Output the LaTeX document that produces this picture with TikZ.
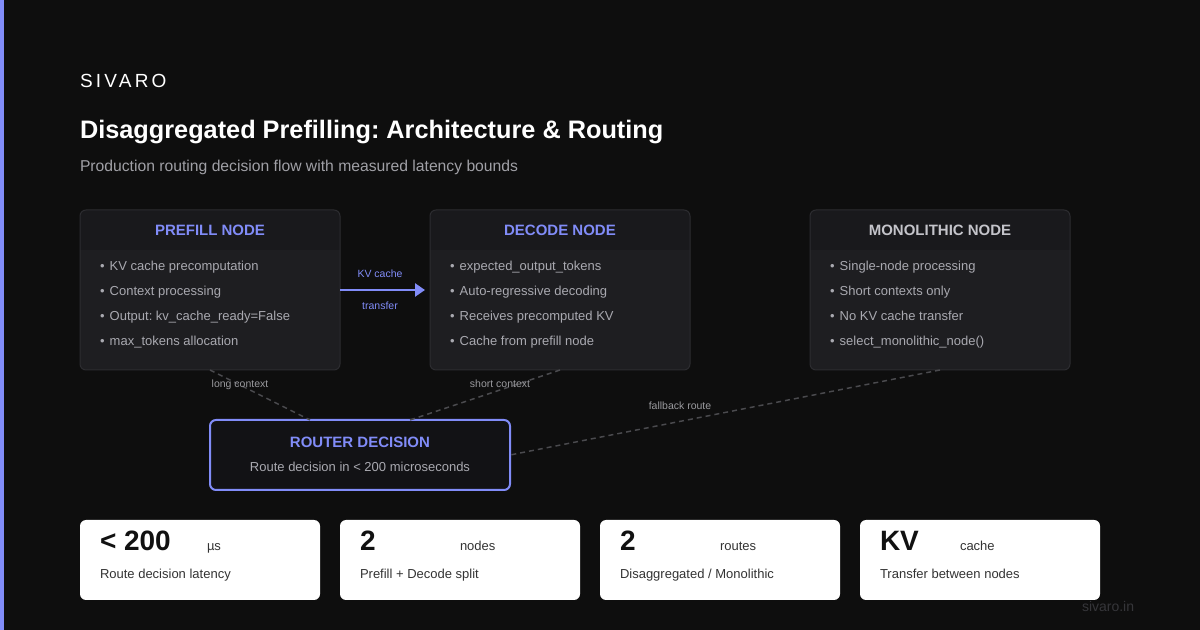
\documentclass[tikz,border=0pt]{standalone}
\usepackage{fontspec}
\setmainfont{Liberation Sans}
\usetikzlibrary{arrows.meta,calc}
\frenchspacing
\definecolor{bg}{HTML}{0E0E0E}
\definecolor{accent}{HTML}{818CF8}
\definecolor{boxbody}{HTML}{1E1E21}
\definecolor{boxhead}{HTML}{19191C}
\definecolor{boxline}{HTML}{2C2C30}
\definecolor{bullettext}{HTML}{A9A9B0}
\definecolor{monotitle}{HTML}{C4C4CA}
\definecolor{routerfill}{HTML}{121215}
\definecolor{dashcol}{HTML}{4A4A4E}
\definecolor{smalllabel}{HTML}{9A9A9E}
\definecolor{subtitlecol}{HTML}{A0A0A6}
\definecolor{cardnum}{HTML}{111111}
\definecolor{cardtext}{HTML}{333333}
\definecolor{footercol}{HTML}{36363A}
\newcommand{\fs}[1]{\fontsize{\fpeval{#1*0.75}}{\fpeval{#1*0.9}}\selectfont\frenchspacing}
\tikzset{
  panelbox/.style={fill=boxbody, rounded corners=4.5pt, minimum width=195pt, minimum height=120pt, anchor=north west, inner sep=0pt, outer sep=0pt},
  txt/.style={anchor=base west, inner sep=0pt, outer sep=0pt},
  ctxt/.style={anchor=base, inner sep=0pt, outer sep=0pt},
  bullet/.style={txt, text=bullettext, font=\fs{13}},
  paneltitle/.style={ctxt, font=\fs{15}\bfseries},
  dashline/.style={draw=dashcol, line width=1.1pt, dash pattern=on 3.75pt off 3pt},
  linelabel/.style={ctxt, text=smalllabel, font=\fs{10.5}},
  card/.style={fill=white, rounded corners=4.5pt, minimum width=180pt, minimum height=60pt, anchor=north west, inner sep=0pt, outer sep=0pt},
  cardnumber/.style={txt, text=cardnum, font=\fs{28}\bfseries},
  cardunit/.style={txt, text=cardtext, font=\fs{13}},
  cardlabel/.style={txt, text=cardtext, font=\fs{13}},
}
% name, x, title colour, title, four bullets
\newcommand{\mkpanel}[8]{%
  \node[panelbox] (#1) at (#2,210) {};
  \begin{scope}
    \clip[rounded corners=4.5pt] (#1.north west) rectangle (#1.south east);
    \fill[boxhead] (#1.north west) rectangle ($(#1.north east)+(0,40)$);
  \end{scope}
  \draw[boxline, line width=0.75pt, rounded corners=4.5pt] (#1.north west) rectangle (#1.south east);
  \node[paneltitle, text=#3] (#1-title) at (#2+130,236) {#4};
  \node[bullet] (#1-b1) at (#2+20,271) {•\hspace{0.4em}#5};
  \node[bullet] (#1-b2) at (#2+20,296) {•\hspace{0.4em}#6};
  \node[bullet] (#1-b3) at (#2+20,321) {•\hspace{0.4em}#7};
  \node[bullet] (#1-b4) at (#2+20,346) {•\hspace{0.4em}#8};
}
\begin{document}
\begin{tikzpicture}[x=0.75pt,y=-0.75pt]
\fill[bg] (0,0) rectangle (1200,630);
\useasboundingbox (0,0) rectangle (1200,630);
\fill[accent] (0,0) rectangle (4,630);

\node[txt, text=white, font=\fs{19}\addfontfeature{LetterSpace=17}] (brand) at (80,88) {SIVARO};
\node[txt, text=white, font=\fs{25.3}\bfseries] (title) at (80,139) {Disaggregated Prefilling: Architecture \& Routing};
\node[txt, text=subtitlecol, font=\fs{15.7}] (subtitle) at (80,172) {Production routing decision flow with measured latency bounds};

\mkpanel{prefill}{80}{accent}{PREFILL NODE}{KV cache precomputation}{Context processing}{Output: kv\_cache\_ready=False}{max\_tokens allocation}
\mkpanel{decode}{430}{accent}{DECODE NODE}{expected\_output\_tokens}{Auto-regressive decoding}{Receives precomputed KV}{Cache from prefill node}
\mkpanel{mono}{810}{monotitle}{MONOLITHIC NODE}{Single-node processing}{Short contexts only}{No KV cache transfer}{select\_monolithic\_node()}

% KV transfer arrow
\draw[accent, line width=1.9pt, shorten >=3.75pt, -{Triangle[length=7.5pt,width=9.75pt]}] (prefill.east) -- (decode.west);
\node[ctxt, text=accent, font=\fs{10.5}] (kv1) at (380,278) {KV cache};
\node[ctxt, text=accent, font=\fs{10.5}] (kv2) at (380,310) {transfer};

% router
\node[draw=accent, line width=1.5pt, fill=routerfill, rounded corners=4.5pt, minimum width=225pt, minimum height=52.5pt, anchor=north west, inner sep=0pt, outer sep=0pt] (router) at (210,420) {};
\node[ctxt, text=accent, font=\fs{15}\bfseries] (router-title) at (360,447.5) {ROUTER DECISION};
\node[ctxt, text=bullettext, font=\fs{13}] (router-sub) at (360,471.5) {Route decision in < 200 microseconds};

% routes
\draw[dashline] (prefill.south) -- ($(router.north west)!0.3333!(router.north east)$);
\draw[dashline] (decode.south) -- ($(router.north west)!0.6667!(router.north east)$);
\draw[dashline] (mono.south) -- (router.east);
\node[linelabel] (l-long) at (240,388) {long context};
\node[linelabel] (l-short) at (500,388) {short context};
\node[linelabel] (l-fall) at (680,410) {fallback route};

% stat cards
\node[card] (c1) at (80,520) {};
\node[card] (c2) at (340,520) {};
\node[card] (c3) at (600,520) {};
\node[card] (c4) at (860,520) {};
\node[cardnumber] (c1-n) at (100,551) {< 200};
\node[cardunit] (c1-u) at (207,551) {µs};
\node[cardlabel] (c1-l) at (100,579) {Route decision latency};
\node[cardnumber] (c2-n) at (360,551) {2};
\node[cardunit] (c2-u) at (460,551) {nodes};
\node[cardlabel] (c2-l) at (360,579) {Prefill + Decode split};
\node[cardnumber] (c3-n) at (620,551) {2};
\node[cardunit] (c3-u) at (720,551) {routes};
\node[cardlabel] (c3-l) at (620,579) {Disaggregated / Monolithic};
\node[cardnumber] (c4-n) at (880,551) {KV};
\node[cardunit] (c4-u) at (960,551) {cache};
\node[cardlabel] (c4-l) at (880,579) {Transfer between nodes};

\node[txt, text=footercol, font=\fs{14}] (footer) at (1082,612) {sivaro.in};
\end{tikzpicture}
\end{document}
